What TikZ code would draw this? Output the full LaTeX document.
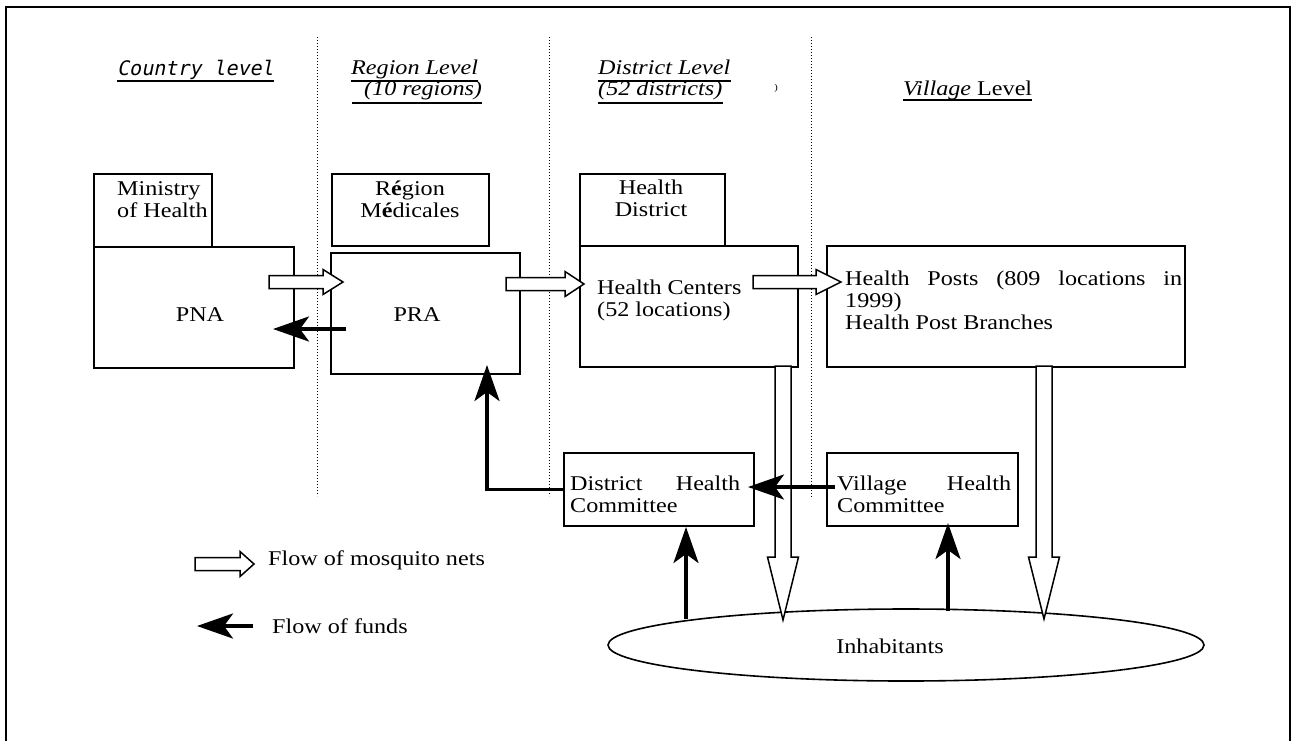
\documentclass[tikz,border=0pt]{standalone}
\usepackage{fontspec}
\setmainfont{Liberation Serif}[FakeStretch=1.15]
\newfontfamily\hdrmono{DejaVu Sans Mono}[FakeSlant=0.2]
\usetikzlibrary{arrows.meta,shapes.geometric,calc}
\newcommand\fs{\fontsize{21}{22}\selectfont}
\newcommand\hollowH[3]{%
  \draw[hollow] let \p1=(#1), \p2=(#2) in
    (\x1,\y1+6.5pt) -- (\x2-#3,\y1+6.5pt) -- (\x2-#3,\y1+12.5pt) -- (\x2,\y1)
    -- (\x2-#3,\y1-12.5pt) -- (\x2-#3,\y1-6.5pt) -- (\x1,\y1-6.5pt) -- cycle;}
\newcommand\hollowV[3]{%
  \draw[hollow] let \p1=(#1), \p2=(#2) in
    (\x1-8pt,\y1) -- (\x1-8pt,\y2+#3) -- (\x1-15.5pt,\y2+#3) -- (\x1,\y2)
    -- (\x1+15.5pt,\y2+#3) -- (\x1+8pt,\y2+#3) -- (\x1+8pt,\y1) -- cycle;}
\begin{document}
\begin{tikzpicture}[x=1pt,y=-1pt,
  box/.style={draw, line width=1.6pt, inner sep=0pt, anchor=north west},
  txt/.style={inner sep=0pt, font=\fs},
  fund/.style={line width=3.5pt, -{Stealth[length=36pt,width=25pt,inset=9pt]}},
  hollow/.style={draw, fill=white, line width=1.5pt, line join=miter},
  sepline/.style={line width=1pt, dash pattern=on 1pt off 2pt},
  uline/.style={line width=2pt},
  hdr/.style={inner sep=0pt, anchor=base west, font=\fs\itshape},
]
\useasboundingbox (0,0) rectangle (1298,740);
% outer frame
\draw[line width=2pt] (6,745) -- (6,7) -- (1290,7) -- (1290,745);
% level separators
\draw[sepline] (317,37) -- (317,496);
\draw[sepline] (549,37) -- (549,496);
\draw[sepline] (811,37) -- (811,497);

% headers
\node[inner sep=0pt, anchor=base west, font=\fontsize{20}{20}\selectfont\hdrmono] (hcountry) at (117,75) {Country level};
\draw[uline] ([yshift=-6pt]hcountry.base west) -- ([yshift=-6pt]hcountry.base east);
\node[hdr] (hreg1) at (351,74) {Region Level};
\node[hdr] (hreg2) at (352,95) {\hspace*{12pt}(10 regions)};
\draw[uline] ([yshift=-7pt]hreg1.base west) -- ([yshift=-7pt]hreg1.base east);
\draw[uline] ([yshift=-8pt]hreg2.base west) -- ([yshift=-8pt]hreg2.base east);
\node[hdr] (hdis1) at (598,74) {District Level};
\node[hdr] (hdis2) at (598,95) {(52 districts)};
\draw[uline] ([yshift=-7pt]hdis1.base west) -- ([yshift=-7pt]hdis1.base east);
\draw[uline] ([yshift=-8pt]hdis2.base west) -- ([yshift=-8pt]hdis2.base east);
\node[inner sep=0pt, font=\fontsize{9}{9}\selectfont] (stray) at (776,88) {)};
\node[hdr, font=\fs] (hvil) at (903,95) {\textit{Village} Level};
\draw[uline] ([yshift=-5pt]hvil.base west) -- ([yshift=-5pt]hvil.base east);

% boxes
\node[box, minimum width=118, minimum height=73] (moh) at (93,173) {};
\node[box, minimum width=200, minimum height=121] (pna) at (93,246) {};
\node[box, minimum width=157, minimum height=72] (regm) at (331,173) {};
\node[box, minimum width=189, minimum height=121] (pra) at (330,252) {};
\node[box, minimum width=145, minimum height=72] (hdist) at (579,173) {};
\node[box, minimum width=218, minimum height=121] (hc) at (579,245) {};
\node[box, minimum width=358, minimum height=121] (hp) at (826,245) {};
\node[box, minimum width=190, minimum height=73] (dhc) at (563,452) {};
\node[box, minimum width=191, minimum height=73] (vhc) at (826,452) {};
\node[draw, ellipse, line width=1.6pt, inner sep=0pt, minimum width=596, minimum height=72] (inh) at (906,645) {};

% box texts
\node[txt, anchor=north west, align=left] (tmoh) at (117,181) {Ministry\\of Health};
\node[txt, anchor=north, align=center] (tregm) at (410,181) {R{\bfseries é}gion\\M{\bfseries é}dicales};
\node[txt, anchor=north, align=center] (thdist) at (651,180) {Health\\District};
\node[txt] (tpna) at (200,315) {PNA};
\node[txt] (tpra) at (417,315) {PRA};
\node[txt, anchor=north west, align=left] (thc) at (597,280) {Health Centers\\(52 locations)};
\node[txt, anchor=north west, align=left] (thp) at (845,271) {\makebox[337pt][s]{Health Posts (809 locations in}\\1999)\\Health Post Branches};
\node[txt, anchor=north west, align=left] (tdhc) at (570,476) {\makebox[170pt][s]{District Health}\\Committee};
\node[txt, anchor=north west, align=left] (tvhc) at (837,476) {\makebox[174pt][s]{Village Health}\\Committee};
\node[txt] (tinh) at (890,646) {Inhabitants};

% flow of mosquito nets
\coordinate (n1s) at (269,282); \coordinate (n1e) at (343,282);
\coordinate (n2s) at (506,284); \coordinate (n2e) at (584,284);
\coordinate (n3s) at (753,282); \coordinate (n3e) at (841,282);
\hollowH{n1s}{n1e}{20pt}
\hollowH{n2s}{n2e}{19pt}
\hollowH{n3s}{n3e}{25pt}
\coordinate (d1s) at (783,366); \coordinate (d1e) at (783,620);
\coordinate (d2s) at (1044,366); \coordinate (d2e) at (1044,619);
\hollowV{d1s}{d1e}{63pt}
\hollowV{d2s}{d2e}{62pt}

% flow of funds
\coordinate (f1s) at (346,329); \coordinate (f1e) at (273,329);
\draw[fund] (f1s) -- (f1e);
\coordinate (f2e) at (487,365);
\draw[fund] (dhc.west) -| (f2e);
\coordinate (f3s) at (835,487); \coordinate (f3e) at (748,487);
\draw[fund] (f3s) -- (f3e);
\coordinate (f4s) at (686,619); \coordinate (f4e) at (686,527);
\draw[fund] (f4s) -- (f4e);
\coordinate (f5s) at (948,611); \coordinate (f5e) at (948,523);
\draw[fund] (f5s) -- (f5e);

% legend
\coordinate (l1s) at (195,564); \coordinate (l1e) at (254,564);
\hollowH{l1s}{l1e}{14pt}
\node[txt, anchor=base west] (tl1) at (268,565) {Flow of mosquito nets};
\coordinate (l2s) at (253,626); \coordinate (l2e) at (197,626);
\draw[fund] (l2s) -- (l2e);
\node[txt, anchor=base west] (tl2) at (272,633) {Flow of funds};
\end{tikzpicture}
\end{document}
